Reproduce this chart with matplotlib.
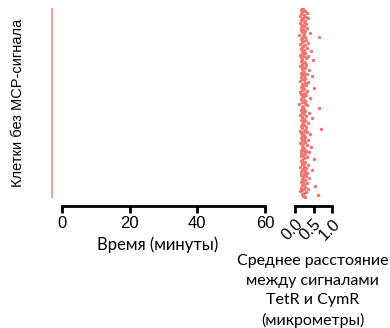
import matplotlib.pyplot as plt
import numpy as np

# cells without MCP signal: every cell is a flat track at the left of the time axis
time_ticks = [0, 20, 40, 60]
n_cells = 200
track_x = -3

# mean TetR-CymR distance per cell (micrometres), top to bottom
dist = [
    0.18, 0.22, 0.15, 0.27, 0.20, 0.31, 0.17, 0.24, 0.13, 0.29, 0.21, 0.35, 0.19, 0.16, 0.26, 0.23, 0.14, 0.30, 0.20, 0.25,
    0.17, 0.33, 0.22, 0.15, 0.28, 0.19, 0.40, 0.24, 0.12, 0.21, 0.65, 0.27, 0.18, 0.16, 0.30, 0.23, 0.20, 0.36, 0.14, 0.26,
    0.22, 0.19, 0.31, 0.15, 0.25, 0.43, 0.18, 0.28, 0.21, 0.13, 0.34, 0.24, 0.17, 0.29, 0.20, 0.48, 0.16, 0.23, 0.27, 0.19,
    0.30, 0.14, 0.22, 0.26, 0.18, 0.38, 0.21, 0.25, 0.15, 0.32, 0.19, 0.24, 0.45, 0.17, 0.28, 0.20, 0.23, 0.13, 0.35, 0.26,
    0.18, 0.29, 0.21, 0.16, 0.52, 0.24, 0.19, 0.33, 0.14, 0.27, 0.22, 0.17, 0.30, 0.25, 0.20, 0.41, 0.15, 0.23, 0.28, 0.19,
    0.26, 0.12, 0.31, 0.21, 0.18, 0.65, 0.24, 0.16, 0.28, 0.22, 0.37, 0.19, 0.25, 0.14, 0.30, 0.20, 0.46, 0.23, 0.17, 0.27,
    0.21, 0.35, 0.18, 0.24, 0.15, 0.29, 0.20, 0.70, 0.26, 0.13, 0.32, 0.22, 0.17, 0.40, 0.25, 0.19, 0.28, 0.16, 0.23, 0.34,
    0.19, 0.27, 0.14, 0.22, 0.31, 0.18, 0.43, 0.25, 0.20, 0.16, 0.29, 0.23, 0.38, 0.17, 0.26, 0.21, 0.15, 0.33, 0.24, 0.50,
    0.20, 0.16, 0.28, 0.23, 0.18, 0.36, 0.25, 0.14, 0.30, 0.21, 0.46, 0.19, 0.27, 0.17, 0.33, 0.24, 0.15, 0.29, 0.22, 0.39,
    0.18, 0.26, 0.21, 0.15, 0.32, 0.24, 0.19, 0.55, 0.28, 0.17, 0.23, 0.36, 0.20, 0.14, 0.30, 0.25, 0.18, 0.62, 0.22, 0.27,
]
dist_ticks = [0.0, 0.5, 1.0]
dist_labels = ['0.0', '0.5', '1.0']

W, H = 390, 328
fig = plt.figure(figsize=(W / 100, H / 100), dpi=100)

label_font = 'Lato'
tick_font = 'Liberation Sans'

def px(x0, y0, x1, y1):
    return [x0 / W, 1 - y1 / H, (x1 - x0) / W, (y1 - y0) / H]

# left panel
ax1 = fig.add_axes(px(50, 8, 265, 198))
ax1.plot([track_x, track_x], [0, n_cells], color='#f4a4a4', lw=1.5, solid_capstyle='butt')
ax1.set_xlim(-3.5, 60)
ax1.set_ylim(n_cells, 0)
for s in ['top', 'right', 'left']:
    ax1.spines[s].set_visible(False)
ax1.spines['bottom'].set_bounds(0, 60)
ax1.spines['bottom'].set_position(('outward', 6))
ax1.spines['bottom'].set_linewidth(2)
ax1.set_yticks([])
ax1.set_xticks(time_ticks)
ax1.tick_params(axis='x', length=5, width=2, labelsize=12, pad=2)
for t in ax1.get_xticklabels():
    t.set_fontfamily(tick_font)
ax1.set_xlabel('Время (минуты)', fontsize=12, fontfamily=label_font, labelpad=4)
ax1.set_ylabel('Клетки без MCP-сигнала', fontsize=10.5, fontfamily=tick_font, labelpad=18)

# right panel
ax2 = fig.add_axes(px(291.3, 8, 334, 198))
ax2.scatter(dist, np.arange(n_cells), s=6, color='#f07470', linewidths=0)
ax2.set_xlim(-0.1, 1.05)
ax2.set_ylim(n_cells, 0)
for s in ['top', 'right', 'left']:
    ax2.spines[s].set_visible(False)
ax2.spines['bottom'].set_bounds(0, 1)
ax2.spines['bottom'].set_position(('outward', 6))
ax2.spines['bottom'].set_linewidth(2)
ax2.set_yticks([])
ax2.set_xticks(dist_ticks)
ax2.set_xticklabels(dist_labels, rotation=45, ha='right', rotation_mode='anchor',
                    fontfamily=tick_font)
ax2.tick_params(axis='x', length=5, width=2, labelsize=12, pad=2)
ax2.set_xlabel('Среднее расстояние\nмежду сигналами\nTetR и CymR\n(микрометры)',
               fontsize=11.5, fontfamily=label_font, labelpad=8, linespacing=1.5)

fig.savefig('out.png', dpi=100)
